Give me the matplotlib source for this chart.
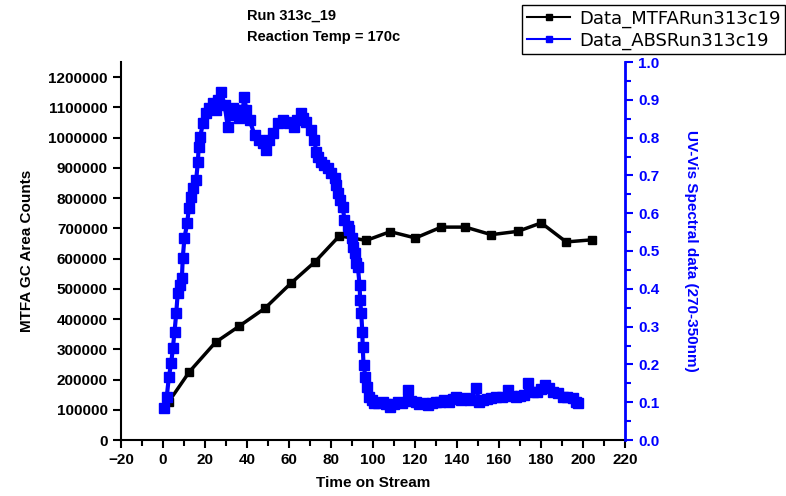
import matplotlib
matplotlib.use("Agg")
import matplotlib.pyplot as plt
from matplotlib.ticker import MultipleLocator, FuncFormatter

plt.rcParams['font.family'] = ['Liberation Sans', 'DejaVu Sans']

# MTFA GC area counts (left axis)
mtfa_time = [2.8, 12.6, 25.0, 36.4, 48.6, 61.0, 72.5, 84.0, 96.8, 108.2,
             120.2, 132.5, 144.0, 156.3, 169.0, 180.1, 192.0, 204.3]
mtfa_area = [127000, 226000, 323000, 377000, 436000, 519000, 590000, 675000,
             660000, 689000, 668000, 704000, 704000, 679000, 690000, 718000,
             655000, 662000]

# UV-Vis spectral data (right axis)
abs_time = [0.7, 1.8, 2.8, 3.9, 4.7, 5.5, 6.3, 7.0, 7.9, 9.0,
            9.4, 10.2, 11.5, 12.3, 13.4, 14.5, 15.8, 16.6, 17.0, 17.7,
            19.0, 20.6, 22.1, 23.7, 25.3, 26.4, 27.7, 29.3, 30.9, 31.7,
            33.1, 34.9, 36.4, 37.9, 38.8, 39.6, 41.2, 43.6, 45.9, 47.4,
            49.1, 50.7, 52.3, 54.7, 57.0, 58.8, 60.2, 62.6, 64.0, 65.8,
            66.9, 68.2, 70.6, 72.1, 72.9, 74.0, 75.3, 76.9, 78.5, 79.8,
            81.7, 82.6, 83.2, 84.5, 85.6, 86.4, 87.9, 88.8, 89.8, 90.4,
            91.2, 92.0, 92.8, 93.6, 93.9, 94.4, 94.9, 95.1, 95.5, 96.4,
            97.0, 98.3, 99.3, 100.7, 102.6, 104.7, 106.4, 107.9, 109.8, 111.8,
            114.0, 116.6, 118.3, 120.6, 122.1, 124.0, 126.1, 127.9, 129.8, 131.7,
            134.0, 136.4, 137.9, 139.6, 141.7, 144.0, 146.4, 149.1, 150.7, 152.6,
            154.5, 156.4, 158.7, 161.2, 164.2, 166.0, 168.2, 170.2, 172.1, 173.7,
            176.1, 178.3, 179.8, 181.7, 183.6, 185.6, 187.9, 190.4, 192.6, 195.1,
            196.8, 197.5]
abs_value = [0.085, 0.115, 0.167, 0.203, 0.243, 0.287, 0.335, 0.388, 0.410, 0.428,
             0.481, 0.534, 0.573, 0.613, 0.644, 0.667, 0.688, 0.736, 0.776, 0.802,
             0.838, 0.864, 0.878, 0.891, 0.873, 0.899, 0.921, 0.886, 0.829, 0.860,
             0.878, 0.873, 0.851, 0.873, 0.908, 0.873, 0.847, 0.807, 0.794, 0.786,
             0.767, 0.794, 0.811, 0.838, 0.847, 0.841, 0.838, 0.829, 0.847, 0.864,
             0.852, 0.842, 0.820, 0.794, 0.763, 0.749, 0.736, 0.728, 0.719, 0.706,
             0.692, 0.675, 0.653, 0.635, 0.617, 0.582, 0.566, 0.556, 0.534, 0.511,
             0.494, 0.467, 0.458, 0.410, 0.370, 0.335, 0.287, 0.247, 0.198, 0.167,
             0.141, 0.115, 0.106, 0.097, 0.098, 0.101, 0.095, 0.088, 0.095, 0.101,
             0.098, 0.132, 0.103, 0.101, 0.095, 0.098, 0.093, 0.098, 0.101, 0.101,
             0.106, 0.101, 0.108, 0.115, 0.106, 0.111, 0.106, 0.137, 0.101, 0.106,
             0.108, 0.111, 0.115, 0.114, 0.132, 0.116, 0.115, 0.116, 0.119, 0.152,
             0.128, 0.127, 0.135, 0.146, 0.138, 0.128, 0.124, 0.115, 0.114, 0.110,
             0.101, 0.099]

fig = plt.figure(figsize=(7.86, 4.96), dpi=100)
ax = fig.add_axes([121 / 786, 56 / 496, 504 / 786, 378 / 496])
ax2 = ax.twinx()

l1, = ax.plot(mtfa_time, mtfa_area, color='black', lw=2.5, marker='s', ms=6,
              label='Data_MTFARun313c19')
l2, = ax2.plot(abs_time, abs_value, color='blue', lw=3, marker='s', ms=6.5,
               label='Data_ABSRun313c19')

ax.set_xlim(-20, 220)
ax.set_ylim(0, 1250000)
ax2.set_ylim(0, 1.0)

ax.xaxis.set_major_locator(MultipleLocator(20))
ax.xaxis.set_minor_locator(MultipleLocator(10))
ax.yaxis.set_major_locator(MultipleLocator(100000))
ax2.yaxis.set_major_locator(MultipleLocator(0.1))
ax2.yaxis.set_minor_locator(MultipleLocator(0.05))
ax.yaxis.set_major_formatter(FuncFormatter(lambda v, p: f"{int(round(v))}"))
ax2.yaxis.set_major_formatter(FuncFormatter(lambda v, p: f"{v:.1f}"))

for s in ['top', 'right']:
    ax.spines[s].set_visible(False)
for s in ['top', 'left', 'bottom']:
    ax2.spines[s].set_visible(False)
ax.spines['left'].set_linewidth(1.5)
ax.spines['bottom'].set_linewidth(1.5)
ax2.spines['right'].set_linewidth(2)
ax2.spines['right'].set_color('blue')

ax.tick_params(axis='both', which='major', length=6, width=1.5, labelsize=11)
ax.tick_params(axis='x', which='minor', length=4, width=1.5)
ax2.tick_params(axis='y', which='major', length=6, width=1.5, colors='blue', labelsize=11)
ax2.tick_params(axis='y', which='minor', length=4, width=1.5, colors='blue')
for lab in ax.get_xticklabels() + ax.get_yticklabels() + ax2.get_yticklabels():
    lab.set_fontweight('bold')

ax.set_xlabel('Time on Stream', fontsize=11, fontweight='bold', labelpad=6)
ax.set_ylabel('MTFA GC Area Counts', fontsize=11, fontweight='bold', labelpad=10)
ax2.set_ylabel('UV-Vis Spectral data (270-350nm)', fontsize=11, fontweight='bold',
               color='blue', rotation=270, labelpad=28)

fig.text(247 / 786, 1 - 16 / 496, 'Run 313c_19', fontsize=10.5, fontweight='bold',
         va='center', ha='left')
fig.text(247 / 786, 1 - 37 / 496, 'Reaction Temp = 170c', fontsize=10.5, fontweight='bold',
         va='center', ha='left')

leg = fig.legend(handles=[l1, l2], loc='upper right', bbox_to_anchor=(0.999, 0.99),
                 borderaxespad=0, fancybox=False, edgecolor='black', framealpha=1,
                 handlelength=2.4, borderpad=0.25, labelspacing=0.2, handletextpad=0.5,
                 prop={'family': ['Liberation Sans Narrow', 'DejaVu Sans'], 'size': 13})
leg.get_frame().set_linewidth(1)
for h in leg.legend_handles:
    h.set_linewidth(1.5)
    h.set_markersize(5)

fig.savefig('out.png', dpi=100)
